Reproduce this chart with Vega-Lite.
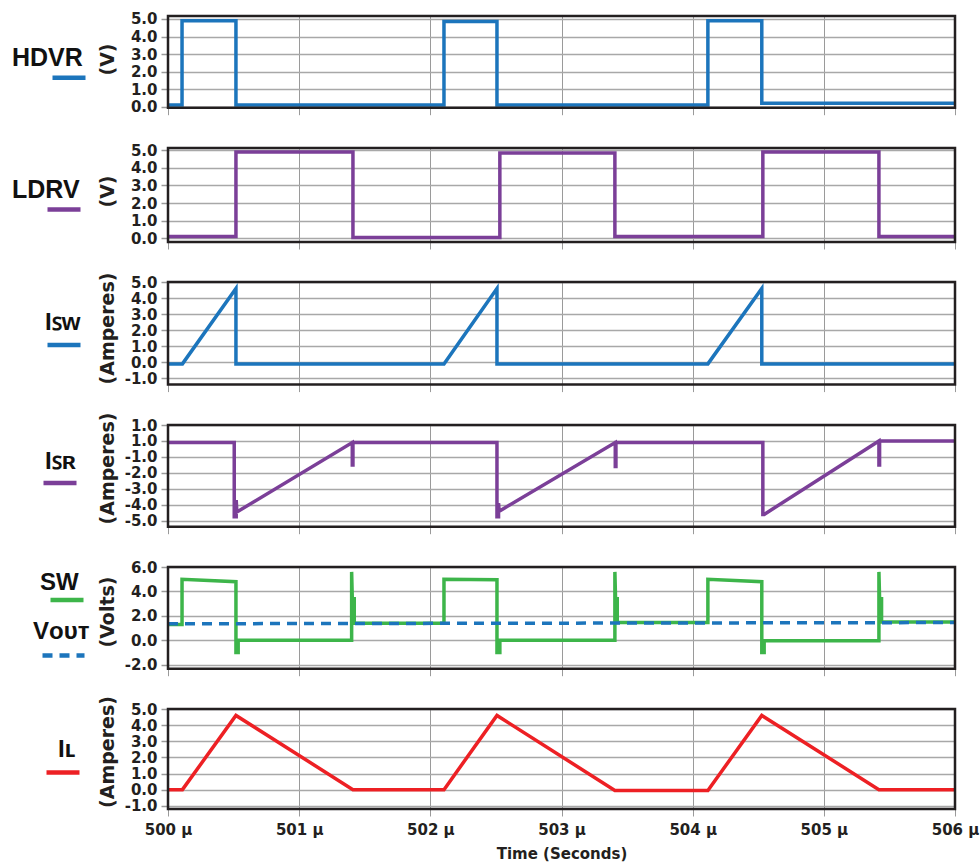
{
  "$schema": "https://vega.github.io/schema/vega-lite/v6.json",
  "background": "white",
  "padding": {"left": 10, "top": 10, "right": 2, "bottom": 5},
  "datasets": {
    "hdvr": [
      {"t": 500.0, "v": 0.1}, {"t": 500.107, "v": 0.1}, {"t": 500.107, "v": 4.9}, {"t": 500.518, "v": 4.9},
      {"t": 500.518, "v": 0.1}, {"t": 502.104, "v": 0.1}, {"t": 502.104, "v": 4.85}, {"t": 502.508, "v": 4.85},
      {"t": 502.508, "v": 0.1}, {"t": 504.116, "v": 0.1}, {"t": 504.116, "v": 4.9}, {"t": 504.527, "v": 4.9},
      {"t": 504.527, "v": 0.2}, {"t": 506.0, "v": 0.2}
    ],
    "ldrv": [
      {"t": 500.0, "v": 0.1}, {"t": 500.518, "v": 0.1}, {"t": 500.518, "v": 4.9}, {"t": 501.41, "v": 4.9},
      {"t": 501.41, "v": 0.05}, {"t": 502.53, "v": 0.05}, {"t": 502.53, "v": 4.85}, {"t": 503.407, "v": 4.85},
      {"t": 503.407, "v": 0.1}, {"t": 504.535, "v": 0.1}, {"t": 504.535, "v": 4.9}, {"t": 505.42, "v": 4.9},
      {"t": 505.42, "v": 0.1}, {"t": 506.0, "v": 0.1}
    ],
    "isw": [
      {"t": 500.0, "v": -0.1}, {"t": 500.11, "v": -0.1}, {"t": 500.518, "v": 4.6}, {"t": 500.518, "v": -0.1},
      {"t": 502.104, "v": -0.1}, {"t": 502.508, "v": 4.6}, {"t": 502.508, "v": -0.1},
      {"t": 504.116, "v": -0.1}, {"t": 504.527, "v": 4.6}, {"t": 504.527, "v": -0.1}, {"t": 506.0, "v": -0.1}
    ],
    "isr": [
      {"t": 500.0, "v": -0.1}, {"t": 500.505, "v": -0.1}, {"t": 500.505, "v": -4.75}, {"t": 500.52, "v": -4.75},
      {"t": 500.52, "v": -3.7}, {"t": 500.525, "v": -4.45}, {"t": 501.405, "v": -0.1}, {"t": 501.405, "v": -1.5},
      {"t": 501.41, "v": -1.5}, {"t": 501.41, "v": -0.1}, {"t": 502.508, "v": -0.1}, {"t": 502.508, "v": -4.75},
      {"t": 502.52, "v": -4.75}, {"t": 502.52, "v": -3.9}, {"t": 502.525, "v": -4.4}, {"t": 503.41, "v": -0.1},
      {"t": 503.41, "v": -1.6}, {"t": 503.415, "v": -1.6}, {"t": 503.415, "v": -0.1}, {"t": 504.535, "v": -0.1},
      {"t": 504.535, "v": -4.6}, {"t": 504.545, "v": -4.6}, {"t": 505.42, "v": 0.0}, {"t": 505.42, "v": -1.5},
      {"t": 505.425, "v": -1.5}, {"t": 505.425, "v": 0.0}, {"t": 506.0, "v": 0.0}
    ],
    "sw": [
      {"t": 500.0, "v": 1.3}, {"t": 500.107, "v": 1.3}, {"t": 500.107, "v": 5.0}, {"t": 500.518, "v": 4.8},
      {"t": 500.518, "v": -1.0}, {"t": 500.535, "v": -1.0}, {"t": 500.535, "v": 0.0}, {"t": 501.40, "v": 0.0},
      {"t": 501.40, "v": 5.6}, {"t": 501.405, "v": 3.4}, {"t": 501.42, "v": 3.4}, {"t": 501.42, "v": 1.4}, {"t": 502.104, "v": 1.4},
      {"t": 502.104, "v": 5.0}, {"t": 502.508, "v": 4.95}, {"t": 502.508, "v": -1.0}, {"t": 502.53, "v": -1.0},
      {"t": 502.53, "v": 0.0}, {"t": 503.407, "v": 0.0}, {"t": 503.407, "v": 5.6}, {"t": 503.412, "v": 3.4}, {"t": 503.425, "v": 3.4},
      {"t": 503.425, "v": 1.45}, {"t": 504.116, "v": 1.45}, {"t": 504.116, "v": 5.0}, {"t": 504.527, "v": 4.8},
      {"t": 504.527, "v": -1.0}, {"t": 504.545, "v": -1.0}, {"t": 504.545, "v": -0.05}, {"t": 505.42, "v": -0.05},
      {"t": 505.42, "v": 5.6}, {"t": 505.425, "v": 3.4}, {"t": 505.44, "v": 3.4}, {"t": 505.44, "v": 1.5}, {"t": 506.0, "v": 1.5}
    ],
    "vout": [
      {"t": 500.0, "v": 1.35}, {"t": 506.0, "v": 1.45}
    ],
    "il": [
      {"t": 500.0, "v": 0.0}, {"t": 500.11, "v": 0.0}, {"t": 500.518, "v": 4.6}, {"t": 501.41, "v": 0.0},
      {"t": 502.104, "v": 0.0}, {"t": 502.508, "v": 4.6}, {"t": 503.407, "v": -0.05}, {"t": 504.116, "v": -0.05},
      {"t": 504.527, "v": 4.6}, {"t": 505.42, "v": 0.0}, {"t": 506.0, "v": 0.0}
    ]
  },
  "spacing": 40,
  "bounds": "flush",
  "resolve": {"scale": {"color": "independent", "strokeDash": "independent"}, "legend": {"color": "independent", "strokeDash": "independent"}},
  "vconcat": [
    {
      "width": 787, "height": 91.7,
      "data": {"name": "hdvr"},
      "transform": [{"window": [{"op": "row_number", "as": "i"}]}],
      "mark": {"type": "line", "strokeWidth": 3.5},
      "encoding": {
        "x": {"field": "t", "type": "quantitative", "scale": {"domain": [500, 506], "nice": false, "zero": false},
              "axis": {"values": [500, 501, 502, 503, 504, 505, 506], "labels": false, "title": null}},
        "y": {"field": "v", "type": "quantitative", "scale": {"domain": [-0.06, 5.17], "nice": false, "zero": false},
              "axis": {"values": [0, 1, 2, 3, 4, 5], "labelExpr": "(datum.value < 0 ? '-' : '') + format(abs(datum.value), '.1f')", "title": "(V)", "titleX": -61, "titleY": 43}},
        "order": {"field": "i", "type": "quantitative"},
        "color": {"datum": "HDVR", "scale": {"range": ["#1c75bc"]},
                  "legend": {"title": "HDVR", "legendX": -156, "legendY": 29.7, "symbolOffset": 38, "titleFontSize": 25, "titlePadding": -12, "symbolStrokeColor": "#4f7fb0", "labelExpr": "''"}}
      }
    },
    {
      "width": 787, "height": 94,
      "data": {"name": "ldrv"},
      "transform": [{"window": [{"op": "row_number", "as": "i"}]}],
      "mark": {"type": "line", "strokeWidth": 3.5},
      "encoding": {
        "x": {"field": "t", "type": "quantitative", "scale": {"domain": [500, 506], "nice": false, "zero": false},
              "axis": {"values": [500, 501, 502, 503, 504, 505, 506], "labels": false, "title": null}},
        "y": {"field": "v", "type": "quantitative", "scale": {"domain": [-0.21, 5.13], "nice": false, "zero": false},
              "axis": {"values": [0, 1, 2, 3, 4, 5], "labelExpr": "(datum.value < 0 ? '-' : '') + format(abs(datum.value), '.1f')", "title": "(V)", "titleX": -61, "titleY": 43}},
        "order": {"field": "i", "type": "quantitative"},
        "color": {"datum": "LDRV", "scale": {"range": ["#7b3f98"]},
                  "legend": {"title": "LDRV", "legendX": -156, "legendY": 29.5, "symbolOffset": 33, "titleFontSize": 25, "titlePadding": -12, "symbolStrokeColor": "#7b3f98", "labelExpr": "''"}}
      }
    },
    {
      "width": 787, "height": 102.6,
      "data": {"name": "isw"},
      "transform": [{"window": [{"op": "row_number", "as": "i"}]}],
      "mark": {"type": "line", "strokeWidth": 3.5},
      "encoding": {
        "x": {"field": "t", "type": "quantitative", "scale": {"domain": [500, 506], "nice": false, "zero": false},
              "axis": {"values": [500, 501, 502, 503, 504, 505, 506], "labels": false, "title": null}},
        "y": {"field": "v", "type": "quantitative", "scale": {"domain": [-1.39, 5.0], "nice": false, "zero": false},
              "axis": {"values": [-1, 0, 1, 2, 3, 4, 5], "labelExpr": "(datum.value < 0 ? '-' : '') + format(abs(datum.value), '.1f')", "title": "(Amperes)", "titleX": -61, "titleY": 46}},
        "order": {"field": "i", "type": "quantitative"},
        "color": {"datum": "ISW", "scale": {"range": ["#1c75bc"]},
                  "legend": {"title": "Iꜱᴡ", "legendX": -123, "legendY": 29, "symbolOffset": 0, "titleFontSize": 24, "titlePadding": -9, "symbolStrokeColor": "#4f7fb0", "labelExpr": "''"}}
      }
    },
    {
      "width": 787, "height": 101.7,
      "data": {"name": "isr"},
      "transform": [{"window": [{"op": "row_number", "as": "i"}]}],
      "mark": {"type": "line", "strokeWidth": 3.5},
      "encoding": {
        "x": {"field": "t", "type": "quantitative", "scale": {"domain": [500, 506], "nice": false, "zero": false},
              "axis": {"values": [500, 501, 502, 503, 504, 505, 506], "labels": false, "title": null}},
        "y": {"field": "v", "type": "quantitative", "scale": {"domain": [-5.37, 1.0], "nice": false, "zero": false},
              "axis": {"values": [-5, -4, -3, -2, -1, 0, 1], "labelExpr": "datum.value == 0 ? '1.0' : (datum.value < 0 ? '-' : '') + format(abs(datum.value), '.1f')", "title": "(Amperes)", "titleX": -61, "titleY": 43}},
        "order": {"field": "i", "type": "quantitative"},
        "color": {"datum": "ISR", "scale": {"range": ["#7b3f98"]},
                  "legend": {"title": "Iꜱʀ", "legendX": -123, "legendY": 25, "symbolOffset": -4, "titleFontSize": 24, "titlePadding": -10, "symbolStrokeColor": "#7b3f98", "labelExpr": "''"}}
      }
    },
    {
      "width": 787, "height": 101.7,
      "encoding": {
        "x": {"field": "t", "type": "quantitative", "scale": {"domain": [500, 506], "nice": false, "zero": false},
              "axis": {"values": [500, 501, 502, 503, 504, 505, 506], "labels": false, "title": null}},
        "y": {"field": "v", "type": "quantitative", "scale": {"domain": [-2.33, 6.0], "nice": false, "zero": false},
              "axis": {"values": [-2, 0, 2, 4, 6], "labelExpr": "(datum.value < 0 ? '-' : '') + format(abs(datum.value), '.1f')", "title": "(Volts)", "titleX": -61, "titleY": 44.5}}
      },
      "layer": [
        {
          "data": {"name": "sw"},
          "transform": [{"window": [{"op": "row_number", "as": "i"}]}],
          "mark": {"type": "line", "strokeWidth": 3.5},
          "encoding": {
            "order": {"field": "i", "type": "quantitative"},
            "color": {"datum": "SW", "scale": {"range": ["#3db54a"]},
                      "legend": {"title": "SW", "legendX": -128, "legendY": 4, "symbolOffset": 8, "titleFontSize": 24, "titlePadding": -14, "symbolStrokeColor": "#2ea84a", "labelExpr": "''"}}
          }
        },
        {
          "data": {"name": "vout"},
          "mark": {"type": "line", "strokeWidth": 3.5, "color": "#1c75bc"},
          "encoding": {
            "strokeDash": {"datum": "VOUT", "scale": {"range": [[10, 7]]},
                           "legend": {"title": "Vᴏᴜᴛ", "legendX": -135, "legendY": 53, "symbolOffset": 7, "symbolSize": 1764, "titleFontSize": 24, "titlePadding": -12, "symbolStrokeColor": "#1c75bc", "labelExpr": "''"}}
          }
        }
      ]
    },
    {
      "width": 787, "height": 100,
      "data": {"name": "il"},
      "transform": [{"window": [{"op": "row_number", "as": "i"}]}],
      "mark": {"type": "line", "strokeWidth": 3.5},
      "encoding": {
        "x": {"field": "t", "type": "quantitative", "scale": {"domain": [500, 506], "nice": false, "zero": false},
              "axis": {"values": [500, 501, 502, 503, 504, 505, 506], "labelExpr": "datum.value + ' µ'", "labelFlush": false, "title": "Time (Seconds)", "labelFontSize": 15, "titleFontSize": 15, "titlePadding": 9, "labelPadding": 6}},
        "y": {"field": "v", "type": "quantitative", "scale": {"domain": [-1.2, 5.0], "nice": false, "zero": false},
              "axis": {"values": [-1, 0, 1, 2, 3, 4, 5], "labelExpr": "(datum.value < 0 ? '-' : '') + format(abs(datum.value), '.1f')", "title": "(Amperes)", "titleX": -61, "titleY": 42.5}},
        "order": {"field": "i", "type": "quantitative"},
        "color": {"datum": "IL", "scale": {"range": ["#ed2024"]},
                  "legend": {"title": "Iʟ", "legendX": -110, "legendY": 28.5, "symbolOffset": -14, "titleFontSize": 24, "titlePadding": -8, "symbolStrokeColor": "#ef3b35", "labelExpr": "''"}}
      }
    }
  ],
  "config": {
    "view": {"stroke": "#231f20", "strokeWidth": 2.5},
    "style": {"cell": {"strokeForeground": true}},
    "axis": {
      "labelFont": "DejaVu Sans", "labelFontWeight": "bold", "labelFontSize": 15, "labelColor": "#231f20",
      "labelOverlap": false, "labelBound": false,
      "titleFont": "DejaVu Sans", "titleFontWeight": "bold", "titleFontSize": 19, "titleColor": "#231f20",
      "tickColor": "#9a9a9a", "tickSize": 7, "tickWidth": 1.5, "gridColor": "#a8a8a8", "gridWidth": 1.5,
      "domain": false, "labelPadding": 4
    },
    "axisX": {"gridWidth": 1, "gridColor": "#9a9a9a", "tickWidth": 1},
    "axisY": {"titleBaseline": "middle", "titleAlign": "center"},
    "legend": {
      "orient": "none", "padding": 0, "labelOpacity": 0, "labelFontSize": 6, "symbolType": "stroke",
      "symbolSize": 1089, "symbolStrokeWidth": 4.5, "titleFont": "Liberation Sans", "titleFontWeight": "bold",
      "titleColor": "#111111", "titleLimit": 300
    }
  }
}
